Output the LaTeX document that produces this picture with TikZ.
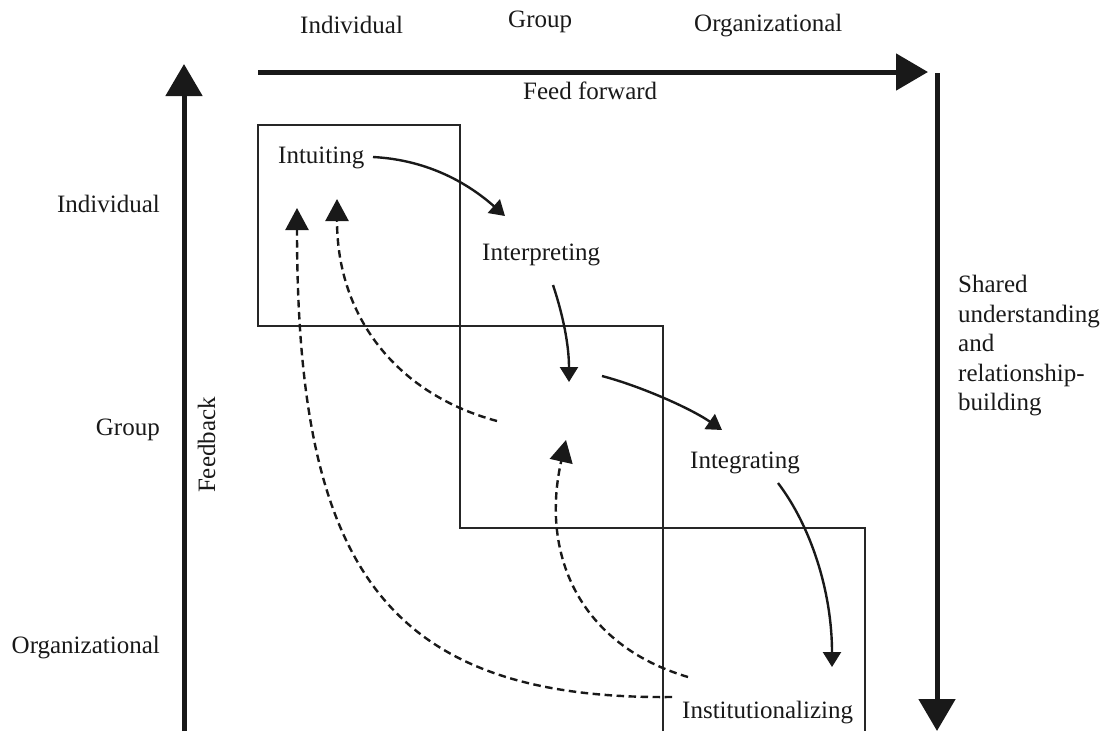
\documentclass[tikz,border=0pt]{standalone}
\usepackage{fontspec}
\setmainfont{Liberation Serif}
\usetikzlibrary{arrows.meta}
\begin{document}
\begin{tikzpicture}[x=1pt,y=-1pt,
  lbl/.style={inner sep=0pt, text=black!90, font=\fontsize{25}{29.5}\selectfont},
  box/.style={draw=black!85, line width=1.3pt},
  big/.style={line width=5pt, draw=black!90, -{Triangle[length=32pt,width=36pt]}},
  flow/.style={line width=2.4pt, draw=black!90, -{Triangle[length=15pt,width=18pt]}},
  fb/.style={line width=2.4pt, draw=black!90, dash pattern=on 7.5pt off 4.5pt, -{Triangle[length=22pt,width=23pt]}}]
\useasboundingbox (0,0) rectangle (1105,731);

% level boxes
\draw[box] (258,125) rectangle (460,326);
\draw[box] (460,326) rectangle (663,528);
\draw[box] (663,731) -- (663,528) -- (865,528) -- (865,731);

% axis labels
\node[lbl, anchor=base west] (tInd) at (300,33) {Individual};
\node[lbl, anchor=base west] (tGrp) at (508,27) {Group};
\node[lbl, anchor=base west] (tOrg) at (694,31) {Organizational};
\node[lbl, anchor=base west] (ff) at (523,99) {Feed forward};
\node[lbl, anchor=base east] (lInd) at (160,212) {Individual};
\node[lbl, anchor=base east] (lGrp) at (160,435) {Group};
\node[lbl, anchor=base east] (lOrg) at (160,653) {Organizational};
\node[lbl, anchor=base, rotate=90] (fbk) at (215,445) {Feedback};
\node[lbl, anchor=north west, align=left] (shared) at (958,275) {Shared\\understanding\\and\\relationship-\\building};

% processes
\node[lbl, anchor=base west] (intu) at (278,163) {Intuiting};
\node[lbl, anchor=base west] (interp) at (482,260) {Interpreting};
\node[lbl, anchor=base west] (integ) at (690,468) {Integrating};
\node[lbl, anchor=base west] (inst) at (682,718) {Institutionalizing};

% thick axes
\coordinate (ffS) at (258,72);  \coordinate (ffE) at (928,72);
\coordinate (shS) at (937,73);  \coordinate (shE) at (937,731);
\coordinate (fbS) at (184,731); \coordinate (fbE) at (184,64);
\draw[big] (ffS) -- (ffE);
\draw[big] (shS) -- (shE);
\draw[big] (fbS) -- (fbE);

% feed-forward flows
\coordinate (f1s) at (373,157); \coordinate (f1e) at (505,216);
\coordinate (f2s) at (553,285); \coordinate (f2e) at (569,382);
\coordinate (f3s) at (602,376); \coordinate (f3e) at (722,430);
\coordinate (f4s) at (778,483); \coordinate (f4e) at (832,667);
\draw[flow] (f1s) .. controls (430,160) and (470,185) .. (f1e);
\draw[flow] (f2s) .. controls (563,315) and (569,345) .. (f2e);
\draw[flow] (f3s) .. controls (640,386) and (690,408) .. (f3e);
\draw[flow] (f4s) .. controls (810,525) and (832,590) .. (f4e);

% feedback flows
\coordinate (bAs) at (688,677); \coordinate (bAe) at (566,440);
\coordinate (bBs) at (672,697); \coordinate (bBe) at (297,208);
\coordinate (bCs) at (497,421); \coordinate (bCe) at (337,199);
\draw[fb] (bAs) .. controls (580,645) and (540,555) .. (bAe);
\draw[fb] (bBs) .. controls (380,700) and (297,560) .. (bBe);
\draw[fb] (bCs) .. controls (400,395) and (337,320) .. (bCe);
\end{tikzpicture}
\end{document}
